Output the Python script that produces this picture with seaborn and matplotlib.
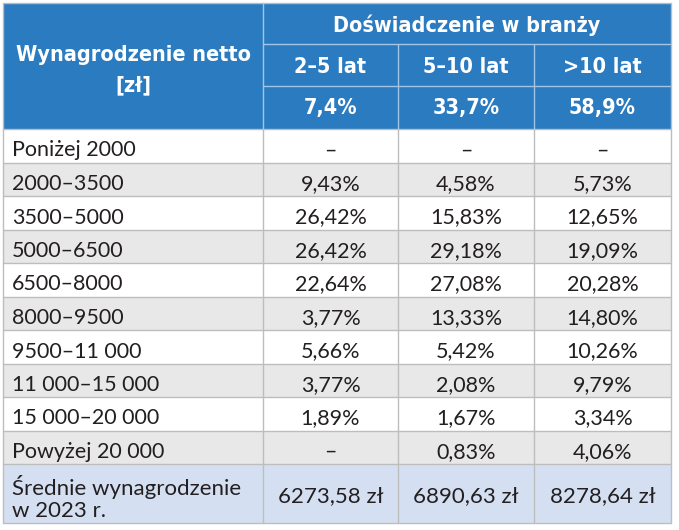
import matplotlib
matplotlib.use('Agg')
import matplotlib.pyplot as plt
from matplotlib import font_manager as fm
from matplotlib.patches import Rectangle
import seaborn as sns

# table content
row_labels = ['Poniżej 2000', '2000–3500', '3500–5000', '5000–6500', '6500–8000',
              '8000–9500', '9500–11 000', '11 000–15 000', '15 000–20 000', 'Powyżej 20 000']
groups = ['2–5 lat', '5–10 lat', '>10 lat']
group_share = [7.4, 33.7, 58.9]
col_2_5 = [None, 9.43, 26.42, 26.42, 22.64, 3.77, 5.66, 3.77, 1.89, None]
col_5_10 = [None, 4.58, 15.83, 29.18, 27.08, 13.33, 5.42, 2.08, 1.67, 0.83]
col_10 = [None, 5.73, 12.65, 19.09, 20.28, 14.80, 10.26, 9.79, 3.34, 4.06]
avg_salary = [6273.58, 6890.63, 8278.64]

sns.set_theme(style='white')
body_font = ['Lato', 'DejaVu Sans']

# narrow bold face for the header, if there is one
narrow = None
for f in fm.fontManager.ttflist:
    if ('Narrow' in f.name or 'Condensed' in f.name or 'condensed' in str(f.stretch)) \
            and f.weight in ('bold', 700, 'Bold'):
        narrow = f
        break
if narrow is not None:
    head_prop = dict(fontproperties=fm.FontProperties(fname=narrow.fname, size=15.5))
else:
    head_prop = dict(family=['DejaVu Sans'], weight='bold', fontsize=13.5)

blue = '#2b7bc0'
grey_row = '#e8e8e8'
sum_row = '#d4e0f2'
line_c = '#bdbdbd'
head_line = '#a3c4e6'
txt = '#231f20'

fig = plt.figure(figsize=(6.79, 5.30), dpi=100)
ax = fig.add_axes([0, 0, 1, 1])
ax.set_xlim(0, 679)
ax.set_ylim(530, 0)
ax.axis('off')

xs = [3, 263, 398, 534, 671]
hy = [3, 44, 86, 129]
n = len(row_labels)
rh = (464 - 129) / n
ys = [129 + i * rh for i in range(n + 1)]
y_end = 523


def fmt(v, suffix):
    return '–' if v is None else f'{v:.2f}'.replace('.', ',') + suffix


# backgrounds
ax.add_patch(Rectangle((xs[0], hy[0]), xs[-1] - xs[0], hy[-1] - hy[0], color=blue, lw=0))
for i in range(n):
    c = grey_row if i % 2 == 1 else 'white'
    ax.add_patch(Rectangle((xs[0], ys[i]), xs[-1] - xs[0], rh, color=c, lw=0))
ax.add_patch(Rectangle((xs[0], ys[-1]), xs[-1] - xs[0], y_end - ys[-1], color=sum_row, lw=0))

# grid lines
lw = 1.0
for y in hy[1:3]:
    ax.plot([xs[1], xs[-1]], [y, y], color=head_line, lw=lw)
for x in xs[2:4]:
    ax.plot([x, x], [hy[1], hy[-1]], color=head_line, lw=lw)
ax.plot([xs[1], xs[1]], [hy[0], hy[-1]], color=head_line, lw=lw)
for y in ys + [y_end]:
    ax.plot([xs[0], xs[-1]], [y, y], color=line_c, lw=lw)
ax.plot([xs[0], xs[-1]], [hy[0], hy[0]], color=line_c, lw=lw)
for x in xs:
    ax.plot([x, x], [hy[-1], y_end], color=line_c, lw=lw)
for x in (xs[0], xs[-1]):
    ax.plot([x, x], [hy[0], hy[-1]], color=line_c, lw=lw)

# header
hkw = dict(color='white', ha='center', va='baseline', **head_prop)
ax.text((xs[0] + xs[1]) / 2, 61, 'Wynagrodzenie netto', **hkw)
ax.text((xs[0] + xs[1]) / 2, 91, '[zł]', **hkw)
ax.text((xs[1] + xs[-1]) / 2, 32, 'Doświadczenie w branży', **hkw)
for j in range(3):
    cx = (xs[j + 1] + xs[j + 2]) / 2
    ax.text(cx, 73, groups[j], **hkw)
    ax.text(cx, 114, f'{group_share[j]:.1f}'.replace('.', ',') + '%', **hkw)

# body
bkw = dict(family=body_font, color=txt, fontsize=15.5, va='baseline')
cols = [col_2_5, col_5_10, col_10]
for i in range(n):
    by = ys[i] + 27.5
    ax.text(xs[0] + 9, by, row_labels[i], ha='left', **bkw)
    for j in range(3):
        ax.text((xs[j + 1] + xs[j + 2]) / 2, by, fmt(cols[j][i], '%'), ha='center', **bkw)

skw = dict(bkw, fontsize=16)
ax.text(xs[0] + 9, 495, 'Średnie wynagrodzenie', ha='left', **skw)
ax.text(xs[0] + 9, 517, 'w 2023 r.', ha='left', **skw)
for j in range(3):
    ax.text((xs[j + 1] + xs[j + 2]) / 2, 502, fmt(avg_salary[j], ' zł'), ha='center', **skw)

plt.savefig('out.png', dpi=100)
